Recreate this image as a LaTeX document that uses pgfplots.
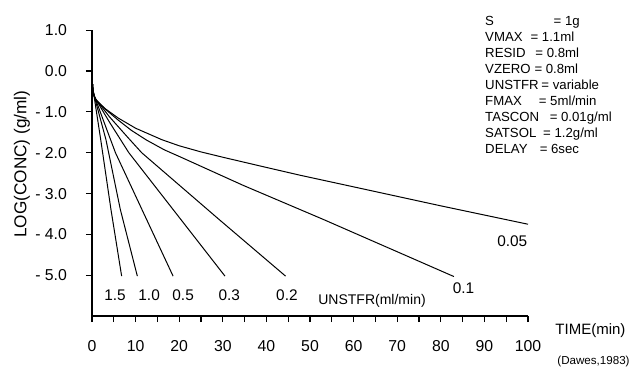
\documentclass[border=0pt]{standalone}
\usepackage{fontspec}
\setmainfont{Liberation Sans}
\usepackage{pgfplots}
\pgfplotsset{compat=1.18}
\begin{document}
\begin{tikzpicture}
\begin{axis}[
  scale only axis, width=218pt, height=143pt,
  xmin=0, xmax=100, ymin=-6, ymax=1,
  axis x line=bottom, axis y line=left,
  axis line style={-, line width=0.8pt},
  every outer x axis line/.append style={-},
  every outer y axis line/.append style={-},
  tick align=outside,
  major tick length=3pt, minor tick length=3pt,
  xtick={0,10,...,100},
  xticklabels={0,10,20,30,40,50,60,70,80,90,100},
  minor xtick={5,15,...,95},
  ytick={-5,-4,...,1},
  yticklabels={- 5.0,- 4.0,- 3.0,- 2.0,- 1.0,0.0,1.0},
  tick style={black, line width=0.6pt},
  ticklabel style={font=\fontsize{7.9}{9}\selectfont},
  xticklabel style={yshift=-5.5pt},
  yticklabel style={xshift=-6pt},
  clip=false,
]
% UNSTFR = 1.5
\addplot[black, line width=0.5pt] table {
0 0.1
0.04 -0.1
0.1 -0.3
0.2 -0.45
0.45 -0.6
2.0 -1.68
4.35 -3.39
6.8 -5.02
};
% 1.0
\addplot[black, line width=0.5pt] table {
0 0.1
0.04 -0.1
0.1 -0.3
0.2 -0.45
0.5 -0.61
3.2 -1.68
6.5 -3.39
10.4 -5.02
};
% 0.5
\addplot[black, line width=0.5pt] table {
0 0.1
0.04 -0.1
0.1 -0.3
0.2 -0.45
0.35 -0.55
0.6 -0.63
3.0 -1.32
5.38 -2.0
11.5 -3.4
18.6 -5.02
};
% 0.3
\addplot[black, line width=0.5pt] table {
0 0.1
0.04 -0.1
0.1 -0.3
0.2 -0.45
0.35 -0.56
0.7 -0.66
4.0 -1.25
8.45 -2.0
18.6 -3.39
30.5 -5.02
};
% 0.2
\addplot[black, line width=0.5pt] table {
0 0.1
0.04 -0.1
0.1 -0.3
0.2 -0.45
0.4 -0.58
0.8 -0.68
4.0 -1.12
8.0 -1.6
11.4 -2.0
20.2 -2.81
29.0 -3.62
44.4 -5.02
};
% 0.1
\addplot[black, line width=0.5pt] table {
0 0.1
0.04 -0.1
0.1 -0.3
0.2 -0.45
0.45 -0.6
0.9 -0.7
3.0 -0.93
6.0 -1.2
9.0 -1.45
12.5 -1.69
16.6 -1.93
20.2 -2.1
34.7 -2.8
53.0 -3.63
83.0 -5.03
};
% 0.05
\addplot[black, line width=0.5pt] table {
0 0.1
0.04 -0.1
0.1 -0.3
0.2 -0.45
0.5 -0.62
1.0 -0.72
3.0 -0.92
6.0 -1.15
10.0 -1.40
16.0 -1.68
20.0 -1.83
25.0 -1.98
30.0 -2.11
35.0 -2.235
40.0 -2.36
47.7 -2.55
61.5 -2.87
80.0 -3.30
100.0 -3.75
};
% curve labels
\begin{scope}[font=\fontsize{7.7}{9}\selectfont]
\node at (axis cs:5.28,-5.48) {1.5};
\node at (axis cs:13.1,-5.48) {1.0};
\node at (axis cs:20.9,-5.48) {0.5};
\node at (axis cs:31.5,-5.48) {0.3};
\node at (axis cs:44.7,-5.48) {0.2};
\node at (axis cs:85.2,-5.32) {0.1};
\node at (axis cs:96.4,-4.157) {0.05};
\end{scope}
\node[anchor=west, inner sep=0pt, font=\fontsize{7}{8}\selectfont] at (axis cs:51.83,-5.62) {UNSTFR(ml/min)};
\node[anchor=west, inner sep=0pt, font=\fontsize{7.5}{9}\selectfont] at (axis cs:106.2,-6.36) {TIME(min)};
\node[anchor=west, inner sep=0pt, font=\fontsize{5.8}{7}\selectfont] at (axis cs:106.65,-7.10) {(Dawes,1983)};
\node[rotate=90, font=\fontsize{8.6}{10}\selectfont] at (axis cs:-16.06,-2.28) {LOG(CONC) (g/ml)};
% parameter block
\begin{scope}[font=\fontsize{6.6}{8}\selectfont, inner sep=0pt]
\node[anchor=base west] at (axis cs:90.1,1.109) {S};
\node[anchor=base west] at (axis cs:105.8,1.109) {= 1g};
\node[anchor=base west] at (axis cs:90.1,0.717) {VMAX};
\node[anchor=base west] at (axis cs:100.5,0.717) {= 1.1ml};
\node[anchor=base west] at (axis cs:90.1,0.326) {RESID};
\node[anchor=base west] at (axis cs:101.6,0.326) {= 0.8ml};
\node[anchor=base west] at (axis cs:90.1,-0.066) {VZERO};
\node[anchor=base west] at (axis cs:101.4,-0.066) {= 0.8ml};
\node[anchor=base west] at (axis cs:90.1,-0.458) {UNSTFR};
\node[anchor=base west] at (axis cs:103.0,-0.458) {= variable};
\node[anchor=base west] at (axis cs:90.1,-0.849) {FMAX};
\node[anchor=base west] at (axis cs:102.4,-0.849) {= 5ml/min};
\node[anchor=base west] at (axis cs:90.1,-1.241) {TASCON};
\node[anchor=base west] at (axis cs:104.9,-1.241) {= 0.01g/ml};
\node[anchor=base west] at (axis cs:90.1,-1.633) {SATSOL};
\node[anchor=base west] at (axis cs:103.4,-1.633) {= 1.2g/ml};
\node[anchor=base west] at (axis cs:90.1,-2.024) {DELAY};
\node[anchor=base west] at (axis cs:102.6,-2.024) {= 6sec};
\end{scope}
\coordinate (bbtl) at (axis cs:-21.10,1.738);
\coordinate (bbbr) at (axis cs:123.85,-7.368);
\end{axis}
\pgfresetboundingbox
\path[use as bounding box] (bbtl) rectangle (bbbr);
\end{tikzpicture}
\end{document}
